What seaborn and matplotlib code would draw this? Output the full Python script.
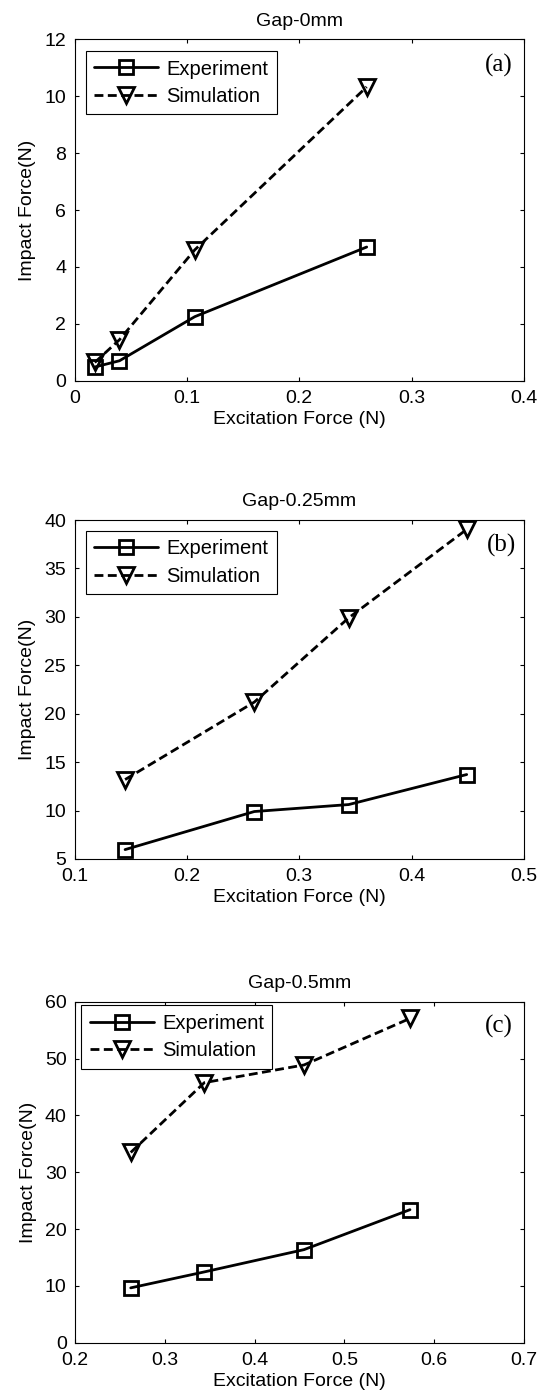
import matplotlib
matplotlib.use("Agg")
import matplotlib.pyplot as plt
from matplotlib.ticker import FuncFormatter, FixedLocator
import pandas as pd
import seaborn as sns

# Measured impact force versus excitation force for three gap sizes
excitation_a = [0.018, 0.040, 0.107, 0.260]
experiment_a = [0.48, 0.70, 2.25, 4.70]
simulation_a = [0.64, 1.44, 4.60, 10.33]

excitation_b = [0.145, 0.260, 0.344, 0.449]
experiment_b = [5.97, 9.90, 10.62, 13.72]
simulation_b = [13.20, 21.20, 29.90, 39.03]

excitation_c = [0.262, 0.344, 0.455, 0.573]
experiment_c = [9.66, 12.47, 16.39, 23.42]
simulation_c = [33.49, 45.78, 48.89, 57.08]

titles = ["Gap-0mm", "Gap-0.25mm", "Gap-0.5mm"]
panel_tags = ["(a)", "(b)", "(c)"]
series_names = ["Experiment", "Simulation"]

x_ticks = [[0, 0.1, 0.2, 0.3, 0.4],
           [0.1, 0.2, 0.3, 0.4, 0.5],
           [0.2, 0.3, 0.4, 0.5, 0.6, 0.7]]
y_ticks = [[0, 2, 4, 6, 8, 10, 12],
           [5, 10, 15, 20, 25, 30, 35, 40],
           [0, 10, 20, 30, 40, 50, 60]]

panels = [
    (excitation_a, experiment_a, simulation_a),
    (excitation_b, experiment_b, simulation_b),
    (excitation_c, experiment_c, simulation_c),
]

sns.set_style("ticks", {
    "xtick.direction": "in",
    "ytick.direction": "in",
    "axes.edgecolor": "black",
    "axes.linewidth": 0.8,
})
plt.rcParams["font.family"] = ["Liberation Sans", "DejaVu Sans"]
plt.rcParams["text.color"] = "black"
plt.rcParams["axes.labelcolor"] = "black"
plt.rcParams["xtick.color"] = "black"
plt.rcParams["ytick.color"] = "black"

FS = 14
LW = 2.0

fig = plt.figure(figsize=(5.42, 13.99), dpi=100)

# axes rectangles in figure fractions
rects = [
    (0.1375, 0.7279, 0.8293, 0.2439),
    (0.1375, 0.3860, 0.8293, 0.2423),
    (0.1385, 0.0402, 0.8283, 0.2437),
]
legend_anchors = [(0.0245, 0.966), (0.0245, 0.968), (0.0134, 0.990)]
tag_pos = [(0.975, 0.925), (0.982, 0.926), (0.975, 0.929)]

fmt = FuncFormatter(lambda v, _: "%g" % v)

for i, (xs, exp_vals, sim_vals) in enumerate(panels):
    ax = fig.add_axes(rects[i])
    df = pd.DataFrame({"excitation": xs, "Experiment": exp_vals, "Simulation": sim_vals})

    sns.lineplot(data=df, x="excitation", y="Experiment", ax=ax, color="black",
                 marker="s", markersize=9.5, markerfacecolor="none",
                 markeredgecolor="black", markeredgewidth=LW,
                 linewidth=LW, label=series_names[0], sort=False)
    sns.lineplot(data=df, x="excitation", y="Simulation", ax=ax, color="black",
                 marker="v", markersize=11, markerfacecolor="none",
                 markeredgecolor="black", markeredgewidth=LW,
                 linewidth=LW, linestyle=(0, (3.2, 1.6)),
                 label=series_names[1], sort=False)

    ax.set_xlim(x_ticks[i][0], x_ticks[i][-1])
    ax.set_ylim(y_ticks[i][0], y_ticks[i][-1])
    ax.xaxis.set_major_locator(FixedLocator(x_ticks[i]))
    ax.yaxis.set_major_locator(FixedLocator(y_ticks[i]))
    ax.xaxis.set_major_formatter(fmt)
    ax.yaxis.set_major_formatter(fmt)
    ax.tick_params(axis="both", which="major", direction="in", length=3,
                   width=0.8, top=True, right=True, labelsize=FS)
    ax.tick_params(axis="x", pad=6.5)
    ax.tick_params(axis="y", pad=6)
    for sp in ax.spines.values():
        sp.set_visible(True)
        sp.set_linewidth(0.8)
        sp.set_color("black")

    ax.set_title(titles[i], fontsize=FS, pad=10)
    ax.set_xlabel("Excitation Force (N)", fontsize=FS, labelpad=3)
    ax.set_ylabel("Impact Force(N)", fontsize=FS, labelpad=6)

    leg = ax.legend(loc="upper left", bbox_to_anchor=legend_anchors[i],
                    borderaxespad=0, fontsize=14.5, frameon=True,
                    fancybox=False, shadow=False, framealpha=1,
                    edgecolor="black", handlelength=3.2, handletextpad=0.4,
                    labelspacing=0.42, borderpad=0.42, numpoints=1)
    leg.get_frame().set_linewidth(0.8)

    ax.text(tag_pos[i][0], tag_pos[i][1], panel_tags[i], transform=ax.transAxes,
            ha="right", va="center", fontsize=18, family="Liberation Serif")

fig.savefig("out.png", dpi=100)
